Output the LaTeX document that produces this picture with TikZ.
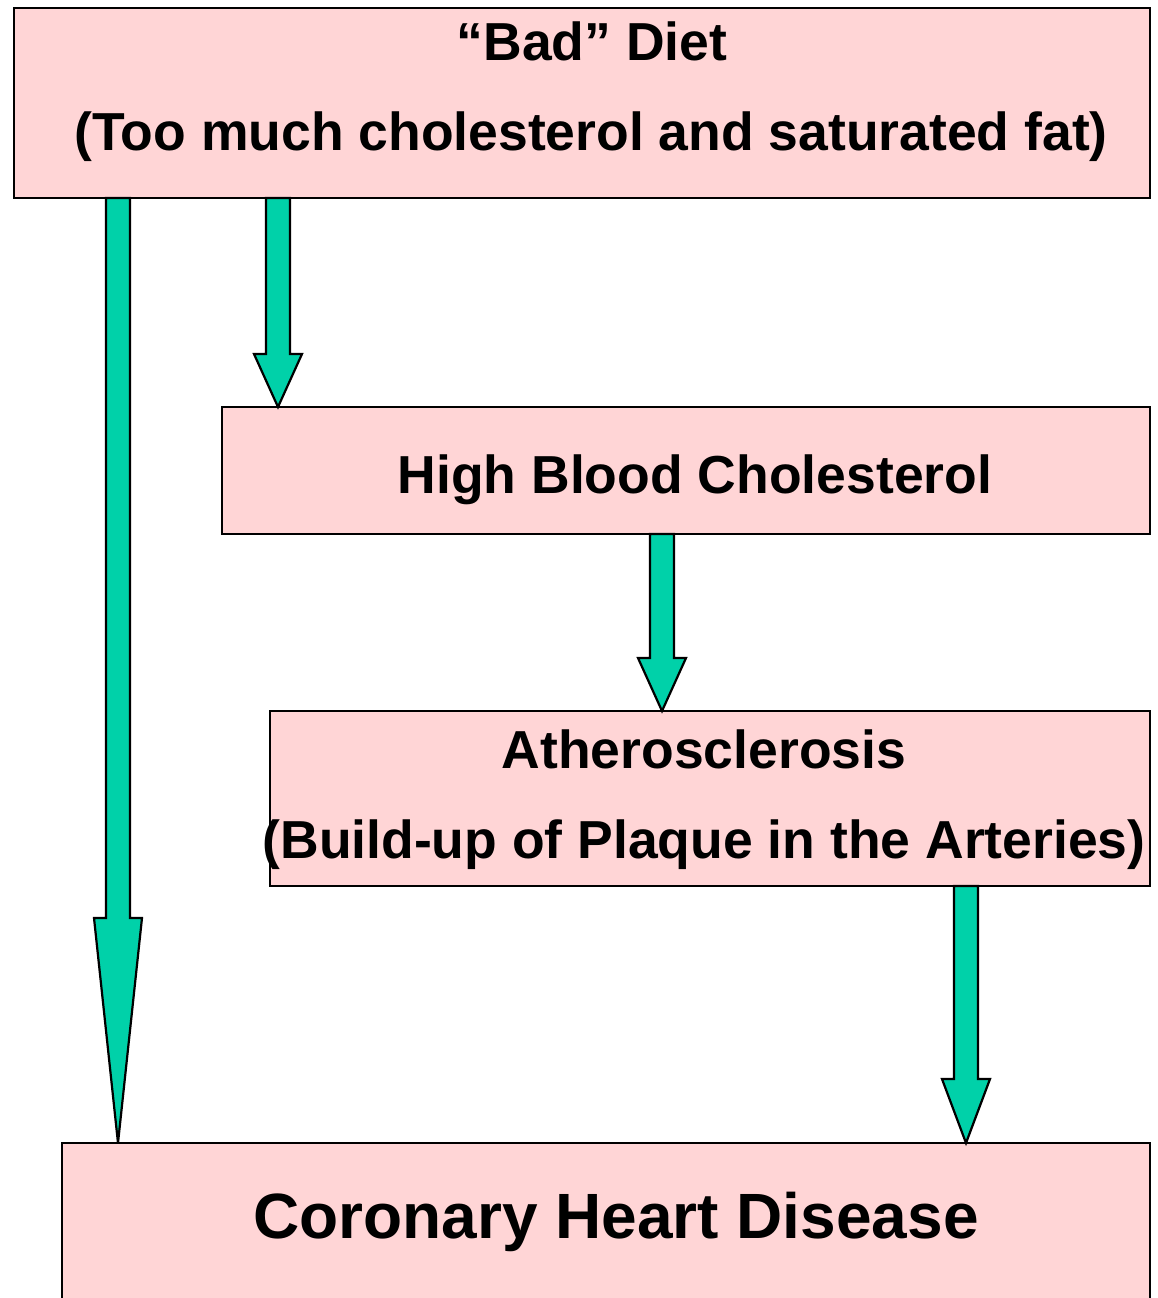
\documentclass[tikz,border=0pt]{standalone}
\usepackage{fontspec}
\setmainfont{Liberation Sans}
\usetikzlibrary{calc}
\definecolor{boxpink}{HTML}{FFD5D6}
\definecolor{arrteal}{HTML}{00D1A9}
\tikzset{
  box/.style={draw=black, line width=2.2pt, fill=boxpink, anchor=north west, inner sep=0pt, outer sep=0pt},
  barrow/.style={draw=black, line width=2.2pt, fill=arrteal, line join=miter, miter limit=3},
  lbl/.style={anchor=base, inner sep=0pt, font=\fontsize{53.5}{60}\selectfont\bfseries},
  biglbl/.style={anchor=base, inner sep=0pt, font=\fontsize{64}{70}\selectfont\bfseries}
}
\newcommand\blkarrow[3]{%
  \draw[barrow] ($(#1)+(-12,0)$) -- ($(#2)+(-12,-#3)$) -- ($(#2)+(-24,-#3)$) -- (#2)
     -- ($(#2)+(24,-#3)$) -- ($(#2)+(12,-#3)$) -- ($(#1)+(12,0)$) -- cycle;}
\begin{document}
\begin{tikzpicture}[x=1pt,y=-1pt]
\useasboundingbox (0,0) rectangle (1157,1298);
% boxes
\node[box, minimum width=1136pt, minimum height=190pt] (diet) at (14,8) {};
\node[box, minimum width=928pt, minimum height=127pt] (hbc) at (222,407) {};
\node[box, minimum width=880pt, minimum height=175pt] (ath) at (270,711) {};
\node[box, minimum width=1088pt, minimum height=175pt] (chd) at (62,1143) {};
% texts
\node[lbl] (dietA) at (592,60) {“Bad” Diet};
\node[lbl] (dietB) at (591,150) {(Too much cholesterol and saturated fat)};
\node[lbl] (hbcA) at (695,493) {High Blood Cholesterol};
\node[lbl] (athA) at (704,768) {Atherosclerosis};
\node[lbl] (athB) at (704,858) {(Build-up of Plaque in the Arteries)};
\node[biglbl] (chdA) at (616,1238) {Coronary Heart Disease};
% arrow anchor points
\coordinate (a1s) at ([xshift=104pt]diet.south west);
\coordinate (a1e) at ([xshift=56pt]chd.north west);
\coordinate (a2s) at ([xshift=264pt]diet.south west);
\coordinate (a2e) at ([xshift=56pt]hbc.north west);
\coordinate (a3s) at ([xshift=440pt]hbc.south west);
\coordinate (a3e) at ([xshift=392pt]ath.north west);
\coordinate (a4s) at ([xshift=696pt]ath.south west);
\coordinate (a4e) at ([xshift=904pt]chd.north west);
\blkarrow{a1s}{a1e}{225}
\blkarrow{a2s}{a2e}{53}
\blkarrow{a3s}{a3e}{53}
\blkarrow{a4s}{a4e}{64}
\end{tikzpicture}
\end{document}
